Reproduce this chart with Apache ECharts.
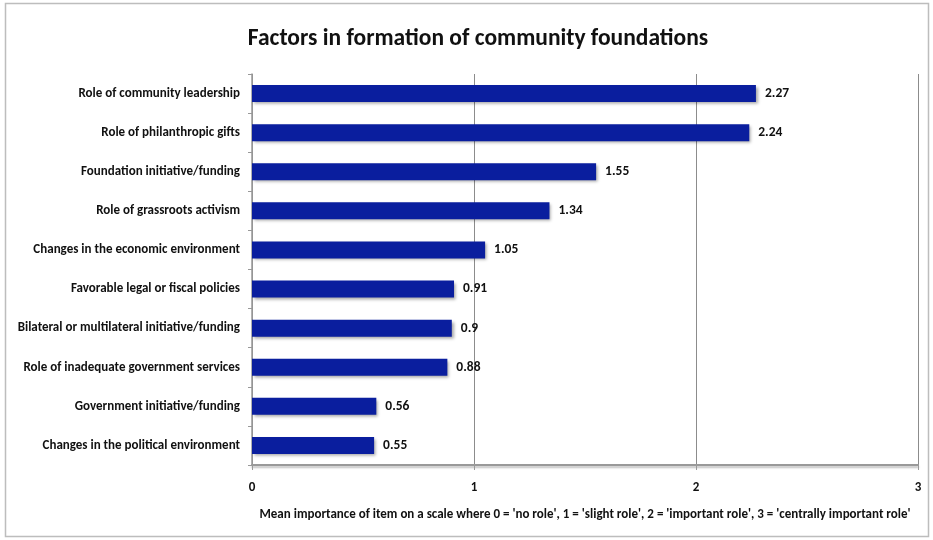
<!DOCTYPE html>
<html>
<head>
<meta charset="utf-8">
<script src="https://cdn.jsdelivr.net/npm/echarts@6/dist/echarts.min.js"></script>
<style>html,body{margin:0;padding:0;background:#fff}#c{width:933px;height:540px}</style>
</head>
<body>
<div id="c"></div>
<script>
var categories = [
  "Role of community leadership",
  "Role of philanthropic gifts",
  "Foundation initiative/funding",
  "Role of grassroots activism",
  "Changes in the economic environment",
  "Favorable legal or fiscal policies",
  "Bilateral or multilateral initiative/funding",
  "Role of inadequate government services",
  "Government initiative/funding",
  "Changes in the political environment"
];
var values = [2.27, 2.24, 1.55, 1.34, 1.05, 0.91, 0.9, 0.88, 0.56, 0.55];
var xTicks = [0, 1, 2, 3];

var FONT = 'Carlito, "Liberation Sans Narrow", "Open Sans", sans-serif';
var chart = echarts.init(document.getElementById('c'));
chart.setOption({
  animation: false,
  backgroundColor: '#fff',
  title: {
    text: 'Factors in formation of community foundations',
    left: 473, top: 22, textAlign: 'center',
    textStyle: {fontFamily: FONT, fontSize: 23.5, fontWeight: 'bold', color: '#111'}
  },
  graphic: [{
    type: 'rect', shape: {x: 5.5, y: 3.5, width: 923, height: 533},
    style: {fill: 'none', stroke: '#bdbdbd', lineWidth: 1.5}, silent: true
  }],
  grid: {left: 252, right: 15, top: 74, bottom: 75, containLabel: false},
  xAxis: {
    type: 'value', min: xTicks[0], max: xTicks[xTicks.length - 1], interval: 1,
    name: "Mean importance of item on a scale where 0 = 'no role', 1 = 'slight role', 2 = 'important role', 3 = 'centrally important role'",
    nameLocation: 'middle', nameGap: 43,
    nameTextStyle: {fontFamily: FONT, fontSize: 13, fontWeight: 'bold', color: '#111'},
    axisLine: {show: true, lineStyle: {color: '#999', width: 2, shadowColor: 'rgba(0,0,0,0.25)', shadowOffsetY: 2, shadowBlur: 2}},
    axisTick: {show: true, length: 5, lineStyle: {color: '#999'}},
    axisLabel: {fontFamily: FONT, fontSize: 13, fontWeight: 'bold', color: '#111', margin: 16},
    splitLine: {show: true, lineStyle: {color: '#8c8c8c', width: 1}}
  },
  yAxis: {
    type: 'category', data: categories, inverse: true,
    axisLine: {show: true, lineStyle: {color: '#999', width: 1.5}},
    axisTick: {show: true, length: 4, lineStyle: {color: '#999'}},
    axisLabel: {fontFamily: FONT, fontSize: 13, fontWeight: 'bold', color: '#111', margin: 12}
  },
  series: [{
    type: 'bar', data: values, barWidth: 17,
    itemStyle: {color: '#0a1e9e', shadowColor: 'rgba(0,0,0,0.35)', shadowBlur: 3, shadowOffsetX: 2, shadowOffsetY: 2},
    label: {show: true, position: 'right', distance: 9, fontFamily: FONT, fontSize: 13.5, fontWeight: 'bold', color: '#111'}
  }]
});
</script>
</body>
</html>
